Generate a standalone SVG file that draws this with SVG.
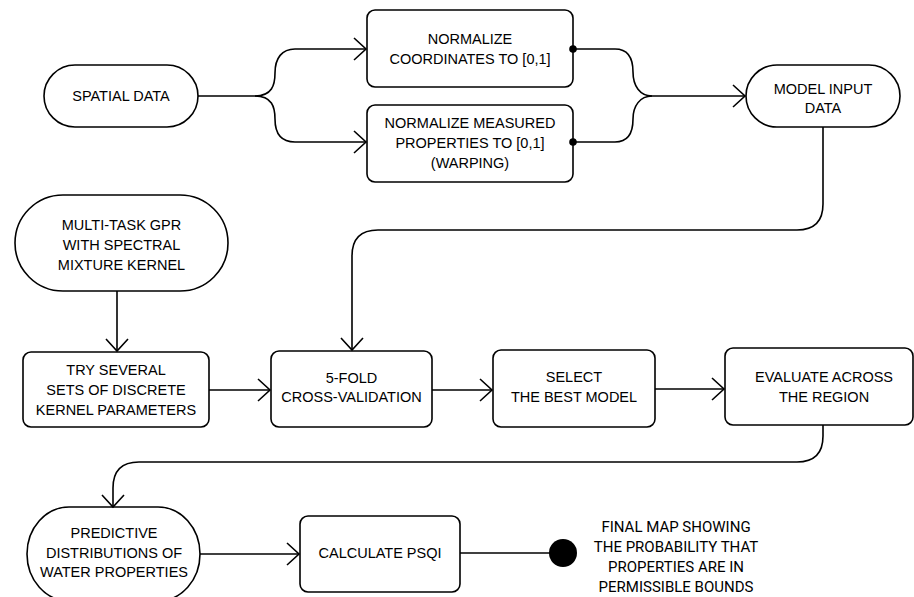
<svg xmlns="http://www.w3.org/2000/svg" width="914" height="597" viewBox="0 0 914 597">
<defs>
<marker id="arr" markerUnits="userSpaceOnUse" markerWidth="30" markerHeight="30" viewBox="-15 -15 30 30" refX="0" refY="0" orient="auto">
<path d="M-12,-11 L0,0 L-12,11" fill="none" stroke="#000" stroke-width="1.6"/>
</marker>
</defs>
<style>
.n{fill:#fff;stroke:#000;stroke-width:1.6}
.t{font-family:"Liberation Sans",Arial,sans-serif;font-size:14.5px;fill:#000;text-anchor:middle}
.f{font-family:Roboto,"Liberation Sans",sans-serif;font-size:15px;fill:#000;text-anchor:middle}
.c{fill:none;stroke:#000;stroke-width:1.6}
</style>
<rect width="914" height="597" fill="#fff"/>
<g id="spatial-data">
<rect class="n" x="44" y="65" width="154" height="62" rx="31"/>
<text class="t" x="121" y="101">SPATIAL DATA</text>
</g>
<g id="normalize-coordinates">
<rect class="n" x="367" y="10" width="206" height="77" rx="8"/>
<text class="t" x="470" y="44">NORMALIZE</text>
<text class="t" x="470" y="64">COORDINATES TO [0,1]</text>
</g>
<g id="normalize-properties">
<rect class="n" x="367" y="105" width="206" height="77" rx="8"/>
<text class="t" x="470" y="128">NORMALIZE MEASURED</text>
<text class="t" x="470" y="148">PROPERTIES TO [0,1]</text>
<text class="t" x="470" y="168">(WARPING)</text>
</g>
<g id="model-input-data">
<rect class="n" x="746" y="65" width="154" height="62" rx="31"/>
<text class="t" x="823" y="94">MODEL INPUT</text>
<text class="t" x="823" y="113">DATA</text>
</g>
<g id="multi-task-gpr">
<rect class="n" x="15" y="195" width="213" height="96" rx="48"/>
<text class="t" x="121.5" y="230">MULTI-TASK GPR</text>
<text class="t" x="121.5" y="250">WITH SPECTRAL</text>
<text class="t" x="121.5" y="270">MIXTURE KERNEL</text>
</g>
<g id="try-several">
<rect class="n" x="23" y="352" width="186" height="75" rx="8"/>
<text class="t" x="116" y="375">TRY SEVERAL</text>
<text class="t" x="116" y="395">SETS OF DISCRETE</text>
<text class="t" x="116" y="415">KERNEL PARAMETERS</text>
</g>
<g id="cross-validation">
<rect class="n" x="271" y="351" width="161" height="76" rx="8"/>
<text class="t" x="351.5" y="383">5-FOLD</text>
<text class="t" x="351.5" y="402">CROSS-VALIDATION</text>
</g>
<g id="select-best-model">
<rect class="n" x="493" y="350" width="162" height="77" rx="8"/>
<text class="t" x="574" y="382">SELECT</text>
<text class="t" x="574" y="402">THE BEST MODEL</text>
</g>
<g id="evaluate-region">
<rect class="n" x="725" y="348" width="188" height="77" rx="8"/>
<text class="t" x="824" y="382">EVALUATE ACROSS</text>
<text class="t" x="824" y="402">THE REGION</text>
</g>
<g id="predictive-distributions">
<rect class="n" x="27" y="507" width="173" height="94" rx="42" ry="47"/>
<text class="t" x="114" y="538">PREDICTIVE</text>
<text class="t" x="114" y="558">DISTRIBUTIONS OF</text>
<text class="t" x="114" y="577">WATER PROPERTIES</text>
</g>
<g id="calculate-psqi">
<rect class="n" x="300" y="516" width="160" height="76" rx="8"/>
<text class="t" x="380" y="558">CALCULATE PSQI</text>
</g>
<g id="final-map">
<circle cx="563" cy="553" r="14" fill="#000"/>
<text class="f" x="676" y="532">FINAL MAP SHOWING</text>
<text class="f" x="676" y="552">THE PROBABILITY THAT</text>
<text class="f" x="676" y="572">PROPERTIES ARE IN</text>
<text class="f" x="676" y="592">PERMISSIBLE BOUNDS</text>
</g>
<g id="connectors">
<path class="c" d="M198,96 H255 C272,96 275,85 275,73 C275,58 282,49 295,49 H366" marker-end="url(#arr)"/>
<path class="c" d="M255,96 C272,96 275,107 275,119 C275,134 282,142 295,142 H366" marker-end="url(#arr)"/>
<path class="c" d="M573,49 H615 C628,49 633,58 633,72 C633,86 640,96 652,96 H745" marker-end="url(#arr)"/>
<path class="c" d="M573,142 H615 C628,142 633,133 633,119 C633,106 640,96 652,96"/>
<circle cx="573" cy="49" r="3.8" fill="#000"/>
<circle cx="573" cy="142" r="3.8" fill="#000"/>
<path class="c" d="M823,127 V204 Q823,230 797,230 H378 Q352,230 352,256 V350" marker-end="url(#arr)"/>
<path class="c" d="M117,291 V351" marker-end="url(#arr)"/>
<path class="c" d="M209,390 H270" marker-end="url(#arr)"/>
<path class="c" d="M432,390 H492" marker-end="url(#arr)"/>
<path class="c" d="M655,389 H724" marker-end="url(#arr)"/>
<path class="c" d="M823,425 V436 Q823,462 797,462 H139 Q113,462 113,488 V507" marker-end="url(#arr)"/>
<path class="c" d="M200,554 H299" marker-end="url(#arr)"/>
<path class="c" d="M460,553 H550"/>
</g>
</svg>
